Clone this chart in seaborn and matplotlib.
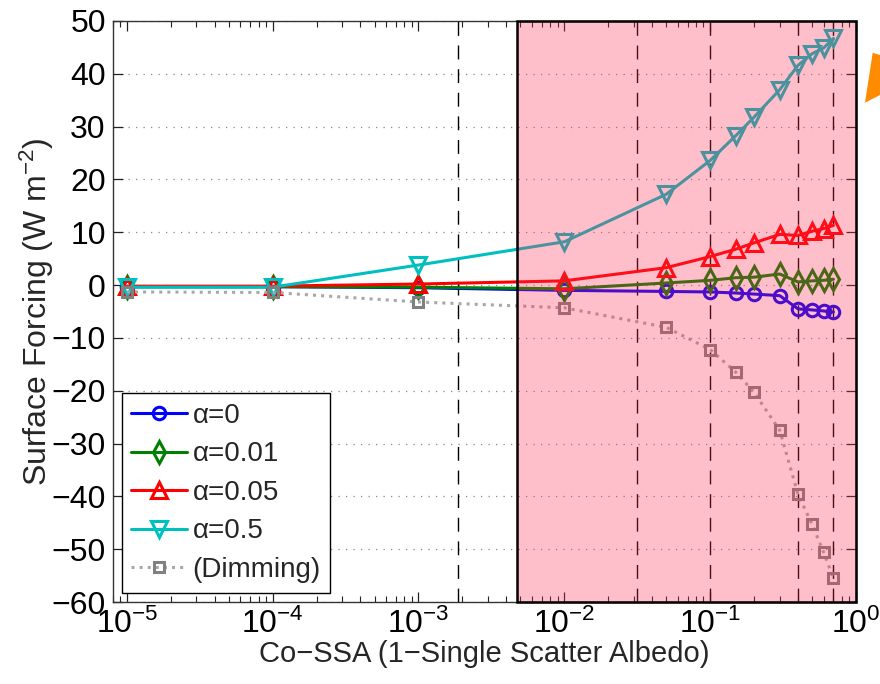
import matplotlib
matplotlib.use("Agg")
import matplotlib.pyplot as plt
import matplotlib.ticker as mticker
from matplotlib.patches import Polygon
import numpy as np
import pandas as pd
import seaborn as sns

# ---- data ----
co_ssa = [1e-5, 1e-4, 1e-3, 1e-2, 0.05, 0.1, 0.15, 0.2, 0.3, 0.4, 0.5, 0.6, 0.7]
alpha_0 = [-0.3, -0.3, -0.5, -1.0, -1.2, -1.3, -1.5, -1.7, -2.0, -4.5, -4.7, -4.9, -5.1]
alpha_001 = [-0.3, -0.3, -0.4, -0.7, 0.4, 0.9, 1.4, 1.5, 2.1, 0.6, 0.8, 0.9, 1.1]
alpha_005 = [-0.2, -0.2, 0.2, 0.8, 3.3, 5.4, 6.8, 8.0, 9.6, 9.4, 10.2, 10.7, 11.3]
alpha_05 = [-0.4, -0.4, 3.8, 8.2, 17.2, 23.6, 28.3, 31.8, 37.0, 41.6, 43.8, 44.9, 46.7]
dimming = [-1.3, -1.4, -3.2, -4.3, -8.0, -12.2, -16.5, -20.3, -27.5, -39.6, -45.3, -50.6, -55.5]
series_labels = ["α=0", "α=0.01", "α=0.05", "α=0.5", "(Dimming)"]
dashed_x = [0.00188, 0.0316, 0.1, 0.4, 0.7]
shade_start = 0.0047
y_ticks = [-60, -50, -40, -30, -20, -10, 0, 10, 20, 30, 40, 50]

sns.set_style("ticks")
plt.rcParams["font.family"] = ["Liberation Sans", "DejaVu Sans"]
plt.rcParams["mathtext.fontset"] = "custom"
plt.rcParams["mathtext.rm"] = "Liberation Sans"
plt.rcParams["mathtext.it"] = "Liberation Sans:italic"
plt.rcParams["mathtext.bf"] = "Liberation Sans:bold"

fig = plt.figure(figsize=(8.8, 6.84), dpi=100)
ax = fig.add_axes([112.7 / 880, 1 - 602 / 684, (856 - 112.7) / 880, (602 - 21) / 684])

styles = [
    dict(color="#0000ff", marker="o", ms=9, ls="-", mec="#0000ff"),
    dict(color="#008000", marker="d", ms=11, ls="-", mec="#008000"),
    dict(color="#ff0000", marker="^", ms=11, ls="-", mec="#ff0000"),
    dict(color="#00bfbf", marker="v", ms=12, ls="-", mec="#00bfbf"),
    dict(color="#a8a8a8", marker="s", ms=7, ls=":", mec="#808080"),
]
for vals, lab, st in zip([alpha_0, alpha_001, alpha_005, alpha_05, dimming], series_labels, styles):
    df = pd.DataFrame({"x": co_ssa, "y": vals})
    sns.lineplot(data=df, x="x", y="y", ax=ax, color=st["color"], label=lab,
                 marker=st["marker"], markersize=st["ms"], linestyle=st["ls"],
                 linewidth=2.2, markerfacecolor="none", markeredgecolor=st["mec"],
                 markeredgewidth=2.2, zorder=3)

for xv in dashed_x:
    ax.axvline(xv, color="black", lw=1.0, linestyle=(0, (10, 7)), zorder=2)

ax.set_xscale("log")
ax.set_xlim(8e-6, 1.0)
ax.set_ylim(-60, 50)
ax.set_yticks(y_ticks)
ax.yaxis.grid(True, linestyle=(0, (1, 5)), color="#888888", lw=0.9)
ax.xaxis.grid(False)
ax.set_axisbelow(True)

ax.xaxis.set_major_locator(mticker.LogLocator(base=10, numticks=10))
ax.xaxis.set_minor_locator(mticker.LogLocator(base=10, subs=np.arange(2, 10), numticks=20))
ax.xaxis.set_minor_formatter(mticker.NullFormatter())

ax.tick_params(axis="both", which="both", direction="in", top=True, right=True,
               labelsize=23, colors="#222222", labelcolor="black")
ax.tick_params(which="major", length=7, width=0.9, pad=5)
ax.tick_params(which="minor", length=4, width=0.8)
for sp in ax.spines.values():
    sp.set_visible(True)
    sp.set_linewidth(1.0)
    sp.set_color("#333333")

# shaded overlay region
ax.axvspan(shade_start, 1.0, facecolor=(1.0, 45 / 255, 82 / 255, 0.3),
           edgecolor="black", lw=1.8, zorder=6, clip_on=False)

ax.set_xlabel("Co\u2212SSA (1\u2212Single Scatter Albedo)", fontsize=21, labelpad=0)
ax.set_ylabel("Surface Forcing (W m$^{-2}$)", fontsize=23, labelpad=-3)

leg = ax.legend(loc="lower left", bbox_to_anchor=(0.012, 0.016), fontsize=20,
                frameon=True, fancybox=False, framealpha=1, edgecolor="black",
                handlelength=2.0, handletextpad=0.2, labelspacing=0.45,
                borderpad=0.35, borderaxespad=0)
leg.get_frame().set_linewidth(1.0)
leg.set_zorder(4)

# partial orange arrow shape at the right edge
pts = [(872.7, 52.7), (880, 55), (880, 95), (865, 102.7)]
poly = Polygon([(px / 880, 1 - py / 684) for px, py in pts], closed=True,
               transform=fig.transFigure, facecolor="#ff8c00", edgecolor="none")
fig.patches.append(poly)

fig.savefig("out.png", dpi=100)
